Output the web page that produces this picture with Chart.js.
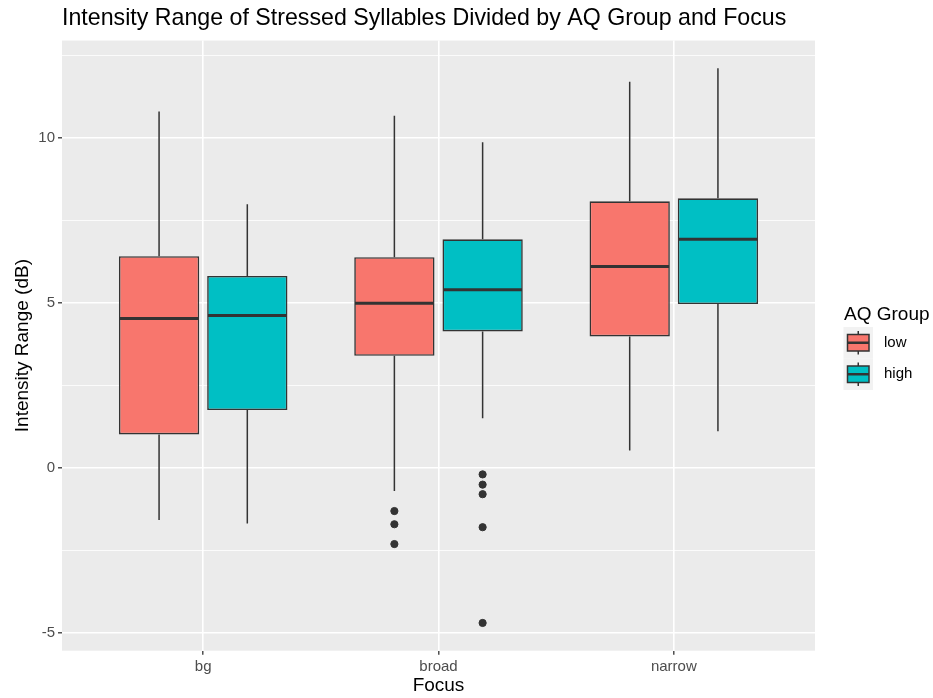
<!DOCTYPE html>
<html><head><meta charset="utf-8">
<script src="https://cdn.jsdelivr.net/npm/chart.js@4.4.1/dist/chart.umd.min.js"></script>
<style>html,body{margin:0;padding:0;background:#fff}#wrap{width:933px;height:698px;position:relative}</style>
</head><body><div id="wrap"><canvas id="c"></canvas></div>
<script>
// ---- data ----
const categories = ['bg', 'broad', 'narrow'];
const groups = ['low', 'high'];
const groupColors = ['#F8766D', '#00BFC4'];
const lowWhiskerMin = [-1.58, -0.70, 0.52];
const lowQ1 = [1.01, 3.39, 3.98];
const lowMedian = [4.52, 4.98, 6.10];
const lowQ3 = [6.41, 6.38, 8.07];
const lowWhiskerMax = [10.79, 10.66, 11.69];
const highWhiskerMin = [-1.69, 1.50, 1.11];
const highQ1 = [1.75, 4.13, 4.96];
const highMedian = [4.61, 5.39, 6.92];
const highQ3 = [5.81, 6.92, 8.16];
const highWhiskerMax = [7.98, 9.86, 12.10];
const lowOutliers = [[], [-1.31, -1.71, -2.31], []];
const highOutliers = [[], [-0.20, -0.51, -0.80, -1.80, -4.70], []];
const yTickLabels = [-5, 0, 5, 10];
const yMinorTicks = [-2.5, 2.5, 7.5, 12.5];

const stats = [
  {min: lowWhiskerMin, q1: lowQ1, med: lowMedian, q3: lowQ3, max: lowWhiskerMax, out: lowOutliers},
  {min: highWhiskerMin, q1: highQ1, med: highMedian, q3: highQ3, max: highWhiskerMax, out: highOutliers}
];
const CAT_PCT = 0.75;
const INK = '#333333';
const FONT = '"Liberation Sans", Arial, sans-serif';

const boxDatasets = groups.map((g, gi) => ({
  type: 'bar',
  label: g,
  data: categories.map((c, i) => ({x: i + 1, y: [stats[gi].q1[i], stats[gi].q3[i]]})),
  backgroundColor: groupColors[gi],
  borderColor: INK,
  borderWidth: 1.6,
  borderSkipped: false,
  categoryPercentage: CAT_PCT,
  barPercentage: 0.91,
  order: 2
}));
const outlierDatasets = groups.map((g, gi) => ({
  type: 'scatter',
  label: g + ' outliers',
  data: categories.flatMap((c, i) => stats[gi].out[i].map(v => ({x: i + 1 + (gi === 0 ? -1 : 1) * CAT_PCT / 4, y: v}))),
  backgroundColor: INK,
  borderColor: INK,
  pointRadius: 3.6,
  pointHoverRadius: 3.6,
  order: 1
}));

const panelBg = {
  id: 'panelBg',
  beforeDraw(chart) {
    const {ctx, chartArea: a} = chart;
    ctx.save();
    ctx.fillStyle = '#EBEBEB';
    ctx.fillRect(a.left, a.top, a.right - a.left, a.bottom - a.top);
    ctx.restore();
  }
};

const boxParts = {
  id: 'boxParts',
  beforeDatasetsDraw(chart) {
    const {ctx} = chart;
    const y = chart.scales.y;
    ctx.save();
    ctx.strokeStyle = INK;
    ctx.lineWidth = 1.5;
    groups.forEach((g, gi) => {
      const meta = chart.getDatasetMeta(gi);
      meta.data.forEach((bar, i) => {
        const s = stats[gi];
        ctx.beginPath();
        ctx.moveTo(bar.x, y.getPixelForValue(s.q3[i]));
        ctx.lineTo(bar.x, y.getPixelForValue(s.max[i]));
        ctx.moveTo(bar.x, y.getPixelForValue(s.q1[i]));
        ctx.lineTo(bar.x, y.getPixelForValue(s.min[i]));
        ctx.stroke();
      });
    });
    ctx.restore();
  },
  afterDatasetsDraw(chart) {
    const {ctx} = chart;
    const y = chart.scales.y;
    ctx.save();
    ctx.strokeStyle = INK;
    ctx.lineWidth = 3;
    groups.forEach((g, gi) => {
      const meta = chart.getDatasetMeta(gi);
      meta.data.forEach((bar, i) => {
        const py = y.getPixelForValue(stats[gi].med[i]);
        ctx.beginPath();
        ctx.moveTo(bar.x - bar.width / 2 + 0.8, py);
        ctx.lineTo(bar.x + bar.width / 2 - 0.8, py);
        ctx.stroke();
      });
    });
    ctx.restore();
  }
};

const boxLegend = {
  id: 'boxLegend',
  afterDraw(chart) {
    const {ctx} = chart;
    const left = 843.5, top = 327, keyW = 29.5, keyH = 31.5;
    ctx.save();
    ctx.fillStyle = '#000';
    ctx.font = '19px ' + FONT;
    ctx.textBaseline = 'alphabetic';
    ctx.textAlign = 'left';
    ctx.fillText('AQ Group', 844, 320);
    groups.forEach((g, gi) => {
      const ky = top + gi * keyH;
      ctx.fillStyle = '#F2F2F2';
      ctx.fillRect(left, ky, keyW, keyH);
      const cx = left + keyW / 2;
      ctx.strokeStyle = INK;
      ctx.lineWidth = 1.5;
      ctx.beginPath();
      ctx.moveTo(cx, ky + 4); ctx.lineTo(cx, ky + keyH - 4);
      ctx.stroke();
      ctx.fillStyle = groupColors[gi];
      ctx.fillRect(left + 4, ky + 7.5, keyW - 8, keyH - 15);
      ctx.strokeRect(left + 4, ky + 7.5, keyW - 8, keyH - 15);
      ctx.lineWidth = 2.5;
      ctx.beginPath();
      ctx.moveTo(left + 4, ky + keyH / 2); ctx.lineTo(left + keyW - 4, ky + keyH / 2);
      ctx.stroke();
      ctx.fillStyle = '#000';
      ctx.font = '15px ' + FONT;
      ctx.textBaseline = 'middle';
      ctx.fillText(g, 884, ky + keyH / 2);
    });
    ctx.restore();
  }
};

new Chart(document.getElementById('c'), {
  data: {datasets: [...boxDatasets, ...outlierDatasets]},
  options: {
    responsive: true,
    maintainAspectRatio: false,
    animation: false,
    layout: {padding: {left: 0, right: 118, top: 0, bottom: 0}},
    plugins: {
      legend: {display: false},
      tooltip: {enabled: false},
      title: {
        display: true,
        text: 'Intensity Range of Stressed Syllables Divided by AQ Group and Focus',
        align: 'start',
        fullSize: false,
        color: '#000',
        font: {family: FONT, size: 23.2, weight: 'normal', lineHeight: 1.2},
        padding: {top: 4.3, bottom: 8.4}
      }
    },
    scales: {
      x: {
        type: 'linear',
        offset: false,
        min: 0.4, max: 3.6,
        afterBuildTicks(scale) { scale.ticks = categories.map((c, i) => ({value: i + 1})); },
        afterFit(scale) { scale.height = 47.3; },
        ticks: {
          callback: v => categories[Math.round(v) - 1],
          color: '#4D4D4D',
          font: {family: FONT, size: 15},
          padding: 3.5,
          autoSkip: false, maxRotation: 0
        },
        grid: {offset: false, color: '#FFFFFF', lineWidth: 1.6, tickColor: INK, tickLength: 4, tickWidth: 1.3},
        border: {display: false},
        title: {display: true, text: 'Focus', color: '#000', font: {family: FONT, size: 19}, padding: {top: 0, bottom: 0.5}}
      },
      y: {
        type: 'linear',
        min: -5.54, max: 12.94,
        afterBuildTicks(scale) {
          scale.ticks = [...yTickLabels, ...yMinorTicks].sort((a, b) => a - b).map(v => ({value: v}));
        },
        afterFit(scale) { scale.width = 62; },
        ticks: {
          callback: v => yTickLabels.includes(v) ? String(v) : '',
          color: '#4D4D4D',
          font: {family: FONT, size: 15},
          padding: 3
        },
        grid: {
          color: '#FFFFFF',
          lineWidth: ctx => yTickLabels.includes(ctx.tick && ctx.tick.value) ? 1.6 : 0.8,
          tickColor: ctx => yTickLabels.includes(ctx.tick && ctx.tick.value) ? INK : 'rgba(0,0,0,0)',
          tickLength: 4,
          tickWidth: 1.3
        },
        border: {display: false},
        title: {display: true, text: 'Intensity Range (dB)', color: '#000', font: {family: FONT, size: 19}, padding: {top: 11, bottom: 0}}
      }
    }
  },
  plugins: [panelBg, boxParts, boxLegend]
});
</script>
</body></html>
